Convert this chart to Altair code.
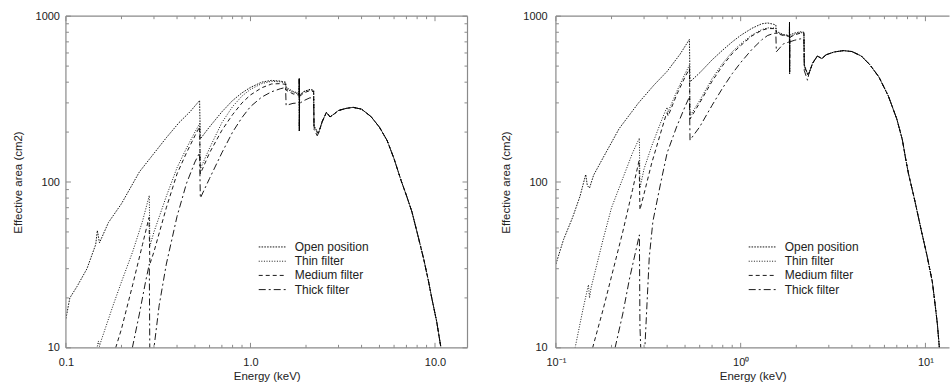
import altair as alt
import pandas as pd

FILTERS = ["Open position", "Thin filter", "Medium filter", "Thick filter"]
DASHES = [[1.6, 1.2], [1, 1.6], [4, 3], [7, 3, 2, 3]]

# ---------------- EPIC MOS (left panel) ----------------
mos_open_e = [0.1, 0.105, 0.115, 0.13, 0.145, 0.148, 0.152, 0.17, 0.2, 0.25, 0.28, 0.35, 0.41, 0.47, 0.53, 0.535,
              0.6, 0.7, 0.8, 0.9, 1.0, 1.15, 1.3, 1.45, 1.55, 1.56, 1.7, 1.835, 1.838, 1.84, 1.845, 1.95, 2.1, 2.2, 2.21, 2.3]
mos_open_a = [15, 20, 23.5, 30, 42, 51, 43, 57, 74, 115, 135, 185, 228, 265, 310, 182,
              215, 265, 310, 345, 372, 400, 410, 406, 400, 372, 352, 342, 420, 204, 335, 352, 362, 358, 218, 202]

mos_thin_e = [0.146, 0.15, 0.152, 0.155, 0.18, 0.2, 0.23, 0.26, 0.283, 0.285, 0.3, 0.35, 0.4, 0.45, 0.5, 0.53, 0.535,
              0.6, 0.7, 0.8, 0.9, 1.0, 1.15, 1.3, 1.45, 1.55, 1.56, 1.7, 1.835, 1.838, 1.84, 1.845, 1.95, 2.1, 2.2, 2.21, 2.3]
mos_thin_a = [9.5, 11, 10.2, 11, 18, 25, 38, 58, 83, 41, 50, 82, 122, 160, 200, 225, 120,
              160, 228, 285, 330, 362, 392, 405, 402, 395, 365, 347, 338, 420, 204, 332, 350, 360, 355, 216, 200]

mos_med_e = [0.186, 0.2, 0.23, 0.26, 0.282, 0.285, 0.3, 0.35, 0.4, 0.45, 0.5, 0.53, 0.535,
             0.6, 0.7, 0.8, 0.9, 1.0, 1.15, 1.3, 1.45, 1.55, 1.56, 1.7, 1.835, 1.838, 1.84, 1.845, 1.95, 2.1, 2.2, 2.21, 2.3]
mos_med_a = [10, 13, 24, 42, 61, 32, 38, 70, 112, 150, 190, 215, 112,
             150, 205, 255, 300, 335, 370, 390, 392, 388, 358, 340, 334, 420, 204, 328, 345, 356, 350, 214, 198]

mos_thick_e = [0.229, 0.25, 0.27, 0.283, 0.285, 0.3, 0.32, 0.35, 0.4, 0.45, 0.5, 0.53, 0.535,
               0.6, 0.7, 0.8, 0.9, 1.0, 1.15, 1.3, 1.45, 1.55, 1.56, 1.7, 1.835, 1.838, 1.84, 1.845, 1.95, 2.1, 2.2, 2.21, 2.3]
mos_thick_a = [10, 16, 25, 32, 8, 10, 18, 32, 62, 98, 132, 150, 80,
               105, 150, 200, 245, 285, 325, 350, 365, 372, 290, 298, 300, 420, 204, 298, 310, 322, 320, 208, 190]

# shared high-energy part of all four MOS curves
mos_tail_e = [2.34, 2.45, 2.58, 2.7, 2.85, 3.0, 3.3, 3.6, 4.0, 4.5, 5.0, 5.5, 6.0, 6.55, 7.0, 7.5, 8.1, 8.7, 9.2, 9.6, 10.2, 10.77]
mos_tail_a = [198, 232, 263, 247, 258, 270, 278, 282, 275, 248, 214, 178, 138, 102, 83, 66, 47, 34, 25.5, 20, 14.5, 10]

# ---------------- EPIC pn (right panel) ----------------
pn_open_e = [0.1, 0.11, 0.123, 0.135, 0.145, 0.148, 0.152, 0.16, 0.18, 0.22, 0.28, 0.34, 0.4, 0.47, 0.528, 0.532,
             0.6, 0.7, 0.8, 0.9, 1.0, 1.15, 1.3, 1.4, 1.5, 1.55, 1.56, 1.7, 1.835, 1.838, 1.84, 1.845, 1.95, 2.1, 2.2, 2.21, 2.3]
pn_open_a = [32, 45, 61, 82, 111, 95, 92, 110, 140, 210, 300, 385, 465, 590, 725, 402,
             455, 545, 625, 700, 766, 845, 900, 910, 895, 885, 810, 775, 765, 920, 450, 770, 790, 805, 800, 510, 450]

pn_thin_e = [0.127, 0.14, 0.146, 0.15, 0.152, 0.155, 0.18, 0.2, 0.23, 0.26, 0.283, 0.285, 0.3, 0.33, 0.37, 0.395, 0.4, 0.405,
             0.45, 0.5, 0.528, 0.532, 0.6, 0.7, 0.8, 0.9, 1.0, 1.15, 1.3, 1.4, 1.5, 1.55, 1.56, 1.7, 1.835, 1.838, 1.84, 1.845,
             1.95, 2.1, 2.2, 2.21, 2.3]
pn_thin_a = [10, 17, 21, 24, 20, 23, 45, 70, 105, 150, 184, 92, 120, 165, 230, 275, 282, 265,
             350, 450, 506, 250, 310, 420, 520, 610, 680, 770, 830, 850, 850, 845, 795, 770, 760, 920, 450, 750,
             775, 795, 795, 505, 448]

pn_med_e = [0.158, 0.18, 0.2, 0.23, 0.26, 0.282, 0.285, 0.3, 0.33, 0.37, 0.395, 0.4, 0.405,
            0.45, 0.5, 0.528, 0.532, 0.6, 0.7, 0.8, 0.9, 1.0, 1.15, 1.3, 1.4, 1.5, 1.55, 1.56, 1.7, 1.835, 1.838, 1.84, 1.845,
            1.95, 2.1, 2.2, 2.21, 2.3]
pn_med_a = [10, 17, 27, 50, 90, 135, 68, 85, 130, 200, 255, 262, 250,
            335, 430, 482, 240, 300, 405, 505, 595, 665, 760, 822, 842, 842, 838, 788, 765, 755, 920, 450, 745,
            770, 790, 790, 500, 445]

pn_thick_e = [0.209, 0.23, 0.25, 0.27, 0.283, 0.285, 0.29, 0.303, 0.32, 0.335, 0.37, 0.4, 0.45, 0.5, 0.528, 0.532,
              0.6, 0.7, 0.8, 0.9, 1.0, 1.15, 1.3, 1.4, 1.5, 1.55, 1.56, 1.7, 1.835, 1.838, 1.84, 1.845,
              1.95, 2.1, 2.2, 2.21, 2.3]
pn_thick_a = [10, 16, 26, 38, 48, 13.5, 8, 10, 35, 58, 100, 150, 215, 285, 326, 179,
              215, 290, 370, 450, 525, 630, 720, 765, 785, 790, 610, 680, 700, 920, 450, 700,
              715, 730, 728, 470, 411]

pn_tail_e = [2.34, 2.45, 2.6, 2.75, 2.9, 3.2, 3.6, 4.0, 4.5, 5.0, 5.6, 6.3, 7.0, 7.5, 7.8, 8.1, 8.7, 9.5, 10.2, 10.9, 11.3, 11.6, 11.9]
pn_tail_a = [450, 520, 575, 555, 585, 608, 620, 612, 575, 510, 430, 330, 240, 180, 140, 112, 80, 51, 36, 25, 18, 14, 10]

# axis tick positions
X_MAJOR = [0.1, 1, 10]
X_MINOR = [0.2, 0.3, 0.4, 0.5, 0.6, 0.7, 0.8, 0.9, 2, 3, 4, 5, 6, 7, 8, 9]
Y_MAJOR = [10, 100, 1000]
Y_MINOR = [20, 30, 40, 50, 60, 70, 80, 90, 200, 300, 400, 500, 600, 700, 800, 900]

FONT = "Liberation Sans"
FRAME = "#8a8a8a"
TEXT = "#222222"


def curves_frame(series, tail_e, tail_a):
    rows = []
    for name, (es, As) in zip(FILTERS, series):
        for e, a in zip(list(es) + tail_e, list(As) + tail_a):
            rows.append({"filter": name, "energy": e, "area": a})
    return pd.DataFrame(rows)


def one_row():
    return pd.DataFrame({"k": [0]})


def panel(df, xmax, W, H, x_label_expr, right_frame, y_label_pad, y_title_pad):
    xs = alt.Scale(type="log", domain=[0.1, xmax], nice=False)
    ys = alt.Scale(type="log", domain=[10, 1000], nice=False)
    x_axis = alt.Axis(values=X_MAJOR, labelExpr=x_label_expr, ticks=False, domain=False, grid=False,
                      labelFlush=False, labelOverlap=False, labelPadding=9, labelFontSize=11,
                      title="Energy (keV)", titleFontSize=11.5, titlePadding=3, titleFontWeight="normal")
    y_axis = alt.Axis(values=Y_MAJOR, format="d", ticks=False, domain=False, grid=False,
                      labelFlush=False, labelOverlap=False, labelPadding=y_label_pad, labelFontSize=11,
                      title="Effective area (cm2)", titleFontSize=11.5, titlePadding=y_title_pad,
                      titleFontWeight="normal")

    lines = alt.Chart(df).mark_line(clip=True, strokeWidth=0.9, color="black").encode(
        x=alt.X("energy:Q", scale=xs, axis=x_axis),
        y=alt.Y("area:Q", scale=ys, axis=y_axis),
        strokeDash=alt.StrokeDash("filter:N", scale=alt.Scale(domain=FILTERS, range=DASHES), legend=None),
        detail="filter:N",
    )

    layers = [lines]

    # inward tick marks
    for vals, ln in ((X_MAJOR, 5), (X_MINOR, 3)):
        d = pd.DataFrame({"energy": vals})
        layers.append(alt.Chart(d).mark_rule(color=FRAME, strokeWidth=1).encode(
            x=alt.X("energy:Q", scale=xs, axis=x_axis), y=alt.value(H), y2=alt.value(H - ln)))
        layers.append(alt.Chart(d).mark_rule(color=FRAME, strokeWidth=1).encode(
            x=alt.X("energy:Q", scale=xs, axis=x_axis), y=alt.value(0), y2=alt.value(ln)))
    for vals, ln in ((Y_MAJOR, 5), (Y_MINOR, 3)):
        d = pd.DataFrame({"area": vals})
        layers.append(alt.Chart(d).mark_rule(color=FRAME, strokeWidth=1).encode(
            y=alt.Y("area:Q", scale=ys, axis=y_axis), x=alt.value(0), x2=alt.value(ln)))
        if right_frame:
            layers.append(alt.Chart(d).mark_rule(color=FRAME, strokeWidth=1).encode(
                y=alt.Y("area:Q", scale=ys, axis=y_axis), x=alt.value(W), x2=alt.value(W - ln)))

    # plot frame
    frame_rules = [
        dict(x=alt.value(0), x2=alt.value(W), y=alt.value(0)),
        dict(x=alt.value(0), x2=alt.value(W), y=alt.value(H)),
        dict(x=alt.value(0), y=alt.value(0), y2=alt.value(H)),
    ]
    if right_frame:
        frame_rules.append(dict(x=alt.value(W), y=alt.value(0), y2=alt.value(H)))
    for enc in frame_rules:
        layers.append(alt.Chart(one_row()).mark_rule(color=FRAME, strokeWidth=1.2).encode(**enc))

    # legend
    row_y = [231, 245.3, 259.5, 273.7]
    for name, dash, yy in zip(FILTERS, DASHES, row_y):
        layers.append(alt.Chart(one_row()).mark_rule(color="black", strokeWidth=0.9, strokeDash=dash).encode(
            x=alt.value(193), x2=alt.value(221), y=alt.value(yy)))
        layers.append(alt.Chart(one_row()).mark_text(align="left", baseline="middle", fontSize=12,
                                                     font=FONT, color=TEXT).encode(
            x=alt.value(229), y=alt.value(yy), text=alt.value(name)))

    return alt.layer(*layers).properties(width=W, height=H)


mos_df = curves_frame([(mos_open_e, mos_open_a), (mos_thin_e, mos_thin_a),
                       (mos_med_e, mos_med_a), (mos_thick_e, mos_thick_a)], mos_tail_e, mos_tail_a)
pn_df = curves_frame([(pn_open_e, pn_open_a), (pn_thin_e, pn_thin_a),
                      (pn_med_e, pn_med_a), (pn_thick_e, pn_thick_a)], pn_tail_e, pn_tail_a)

left = panel(mos_df, 15, 402, 332, "format(datum.value, '.1f')", True, 6.5, 12)
right = panel(pn_df, 13.5, 394, 332,
              "datum.value < 0.5 ? '10⁻¹' : (datum.value < 5 ? '10⁰' : '10¹')", False, 8.7, 10.8)

chart = alt.hconcat(left, right, spacing=32.5).properties(
    padding={"left": 12, "top": 10, "right": 0, "bottom": 0},
    background="white",
).configure_view(stroke=None).configure_axis(
    labelFont=FONT, titleFont=FONT, labelColor=TEXT, titleColor=TEXT
)

chart.save("out.html", embed_options={"renderer": "svg", "actions": False})
